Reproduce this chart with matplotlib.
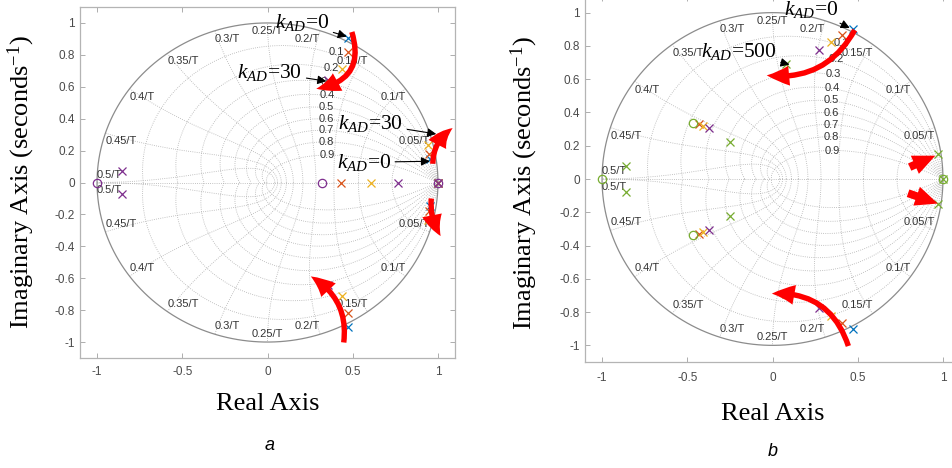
import numpy as np
import matplotlib
matplotlib.use("Agg")
import matplotlib.pyplot as plt
from matplotlib.patches import FancyArrowPatch
from matplotlib.ticker import FuncFormatter

plt.rcParams['font.family'] = ['Liberation Sans', 'DejaVu Sans']
plt.rcParams['mathtext.fontset'] = 'custom'
plt.rcParams['mathtext.rm'] = 'Liberation Serif'
plt.rcParams['mathtext.it'] = 'Liberation Serif:italic'
plt.rcParams['axes.unicode_minus'] = False

# MATLAB colour order, one colour per gain step
blue, orange, yellow, purple, green = '#0072BD', '#D95319', '#EDB120', '#7E2F8E', '#77AC30'

# ---- panel a : kAD 0 -> 30 ----
a_poles_blue = [0.474+0.905j, 0.474-0.905j, 0.953+0.15j, 0.953-0.15j, 1.0]
a_poles_orange = [0.47+0.815j, 0.47-0.815j, 0.945+0.18j, 0.945-0.18j, 0.43, 1.0]
a_poles_yellow = [0.437+0.71j, 0.437-0.71j, 0.94+0.235j, 0.94-0.235j, 0.605, 1.0]
a_poles_purple = [0.353+0.64j, 0.353-0.64j, -0.855+0.073j, -0.855-0.073j, 0.766, 1.0]
a_zeros_purple = [-1.0, 0.318, 1.0]

# ---- panel b : kAD 0 -> 500 ----
b_poles_blue = [0.472+0.904j, 0.472-0.904j]
b_poles_orange = [0.408+0.866j, 0.408-0.866j, -0.43+0.333j, -0.43-0.333j]
b_poles_yellow = [0.341+0.824j, 0.341-0.824j, -0.405+0.32j, -0.405-0.32j]
b_poles_purple = [0.272+0.778j, 0.272-0.776j, -0.37+0.307j, -0.37-0.307j]
b_poles_green = [0.08+0.69j, 0.08-0.69j, -0.247+0.221j, -0.247-0.221j,
                 -0.858+0.08j, -0.858-0.077j, 0.969+0.153j, 0.969-0.153j, 1.0]
b_zeros_green = [-1.0, -0.466+0.334j, -0.466-0.334j, 1.0]

zeta = [0.1, 0.2, 0.3, 0.4, 0.5, 0.6, 0.7, 0.8, 0.9]
wn_steps = [1, 2, 3, 4, 5, 6, 7, 8, 9, 10]   # wn*T = k*pi/10
xticks = [-1, -0.5, 0, 0.5, 1]
yticks = [-1, -0.8, -0.6, -0.4, -0.2, 0, 0.2, 0.4, 0.6, 0.8, 1]


def zgrid(ax):
    kw = dict(color='#b0b0b0', lw=0.6, ls=(0, (1, 1.6)), zorder=1)
    th = np.linspace(0, 2*np.pi, 400)
    ax.plot(np.cos(th), np.sin(th), color='#8c8c8c', lw=0.9, zorder=1.5)
    ax.plot([-1, 1], [0, 0], **kw)
    w = np.linspace(0, np.pi, 300)
    for z in zeta:
        m = z/np.sqrt(1 - z*z)
        zz = np.exp(w*(-m + 1j))
        ax.plot(zz.real, zz.imag, **kw)
        ax.plot(zz.real, -zz.imag, **kw)
        wl = 0.37*np.pi*np.sqrt(1 - z*z)
        p = np.exp(wl*(-m + 1j))
        ax.text(p.real, p.imag, f'{z:g}', fontsize=8, color='#333333',
                ha='left', va='center', zorder=2)
    phi = np.linspace(0, np.pi/2, 200)
    for k in wn_steps:
        a = k*np.pi/10
        zz = np.exp(a*(-np.cos(phi) + 1j*np.sin(phi)))
        ax.plot(zz.real, zz.imag, **kw)
        ax.plot(zz.real, -zz.imag, **kw)
        ha = 'right' if k < 5 else ('center' if k == 5 else 'left')
        x, y = np.cos(a), np.sin(a) - 0.05
        if k == 10:
            y = 0.05
        for s in (1, -1):
            ax.text(x, s*y, f'{k*0.05:g}/T', fontsize=8, color='#333333',
                    ha=ha, va='center', zorder=2)


def pz(ax, vals, color, marker):
    v = np.array(vals, dtype=complex)
    if marker == 'o':
        ax.plot(v.real, v.imag, 'o', mfc='none', mec=color, ms=6, mew=0.9, zorder=3)
    else:
        ax.plot(v.real, v.imag, 'x', color=color, ms=6, mew=0.9, zorder=3)


def style(ax, xpad):
    ax.set_xlim(-1.1, 1.1)
    ax.set_ylim(-1.1, 1.1)
    ax.set_xticks(xticks)
    ax.set_yticks(yticks)
    fmt = FuncFormatter(lambda v, p: f'{round(v, 2):g}')
    ax.xaxis.set_major_formatter(fmt)
    ax.yaxis.set_major_formatter(fmt)
    ax.tick_params(direction='in', top=True, right=True, length=3.5, width=0.6,
                   color='#a0a0a0', labelcolor='#4a4a4a', labelsize=8.5)
    ax.tick_params(axis='x', pad=xpad)
    ax.tick_params(axis='y', pad=3.5)
    for sp in ax.spines.values():
        sp.set_color('#b4b4b4')
        sp.set_linewidth(0.9)
    ax.set_xlabel('Real Axis', family='Liberation Serif', fontsize=19, va='top')
    ax.set_ylabel('Imaginary Axis (seconds$^{-1}$)', family='Liberation Serif', fontsize=19)


def red_arrow(ax, p0, p1, rad, tail=0.15, mut=26):
    ax.add_patch(FancyArrowPatch(p0, p1, connectionstyle=f'arc3,rad={rad}',
                 arrowstyle=f'simple,head_length=0.62,head_width=0.55,tail_width={tail}',
                 mutation_scale=mut, color='#ff0000', lw=0, zorder=6))


def k_note(ax, text, xy, xytext):
    ax.annotate(text, xy=xy, xytext=xytext, fontsize=15.5, family='Liberation Serif',
                ha='left', va='center', zorder=5,
                arrowprops=dict(arrowstyle='-|>', color='k', lw=0.8, mutation_scale=13,
                                shrinkA=1, shrinkB=0))


fig = plt.figure(figsize=(9.52, 4.68), dpi=100)
axa = fig.add_axes([80/952, 1 - 358/468, 375/952, 351/468])
axb = fig.add_axes([585/952, 1 - 362/468, 375/952, 366/468])

# panel a
zgrid(axa)
pz(axa, a_poles_blue, blue, 'x')
pz(axa, a_poles_orange, orange, 'x')
pz(axa, a_poles_yellow, yellow, 'x')
pz(axa, a_poles_purple, purple, 'x')
pz(axa, a_zeros_purple, purple, 'o')
style(axa, 6)
axa.xaxis.set_label_coords(0.5, -0.1)
axa.yaxis.set_label_coords(-0.115, 0.5)
k_note(axa, '$k_{AD}$=0', (0.465, 0.915), (0.044, 1.0))
k_note(axa, '$k_{AD}$=30', (0.345, 0.635), (-0.177, 0.69))
k_note(axa, '$k_{AD}$=30', (0.99, 0.304), (0.414, 0.37))
k_note(axa, '$k_{AD}$=0', (0.953, 0.133), (0.406, 0.127))
red_arrow(axa, (0.49, 0.96), (0.27, 0.585), -0.6)
red_arrow(axa, (0.445, -1.02), (0.24, -0.58), 0.35)
red_arrow(axa, (0.97, 0.10), (1.1, 0.35), -0.3)
red_arrow(axa, (0.963, -0.083), (1.025, -0.35), 0.2)

# panel b
zgrid(axb)
pz(axb, b_poles_blue, blue, 'x')
pz(axb, b_poles_orange, orange, 'x')
pz(axb, b_poles_yellow, yellow, 'x')
pz(axb, b_poles_purple, purple, 'x')
pz(axb, b_poles_green, green, 'x')
pz(axb, b_zeros_green, green, 'o')
style(axb, 7)
axb.xaxis.set_label_coords(0.5, -0.112)
axb.yaxis.set_label_coords(-0.12, 0.49)
k_note(axb, '$k_{AD}$=0', (0.453, 0.908), (0.07, 1.02))
k_note(axb, '$k_{AD}$=500', (0.1, 0.688), (-0.42, 0.765))
red_arrow(axb, (0.49, 0.91), (-0.05, 0.625), -0.35)
red_arrow(axb, (0.45, -1.02), (-0.02, -0.69), 0.4)
red_arrow(axb, (0.79, 0.065), (0.97, 0.147), 0, tail=0.22)
red_arrow(axb, (0.78, -0.08), (0.985, -0.153), 0, tail=0.22)

fig.text(270/952, 1 - 445/468, 'a', fontsize=13, style='italic', ha='center', va='center')
fig.text(773/952, 1 - 452/468, 'b', fontsize=13, style='italic', ha='center', va='center')

fig.savefig('out.png', dpi=100)
